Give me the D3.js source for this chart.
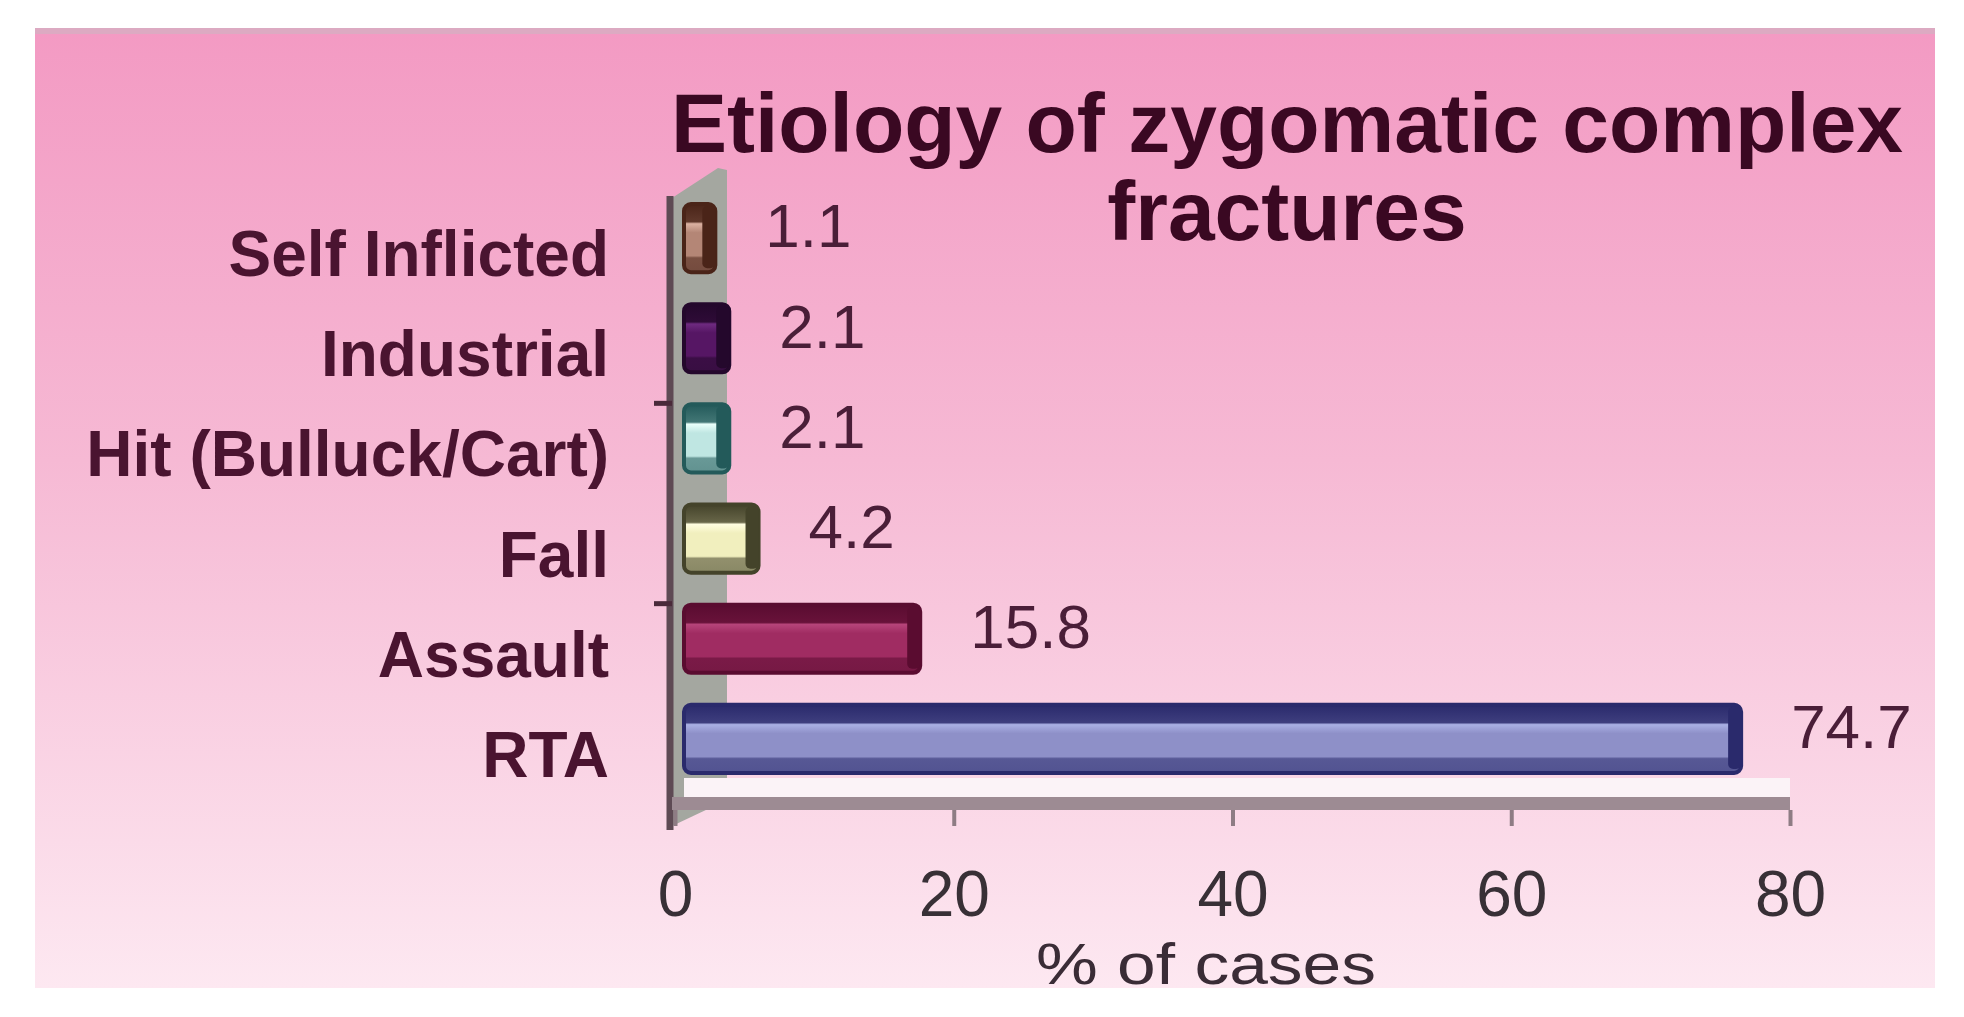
<!DOCTYPE html>
<html>
<head>
<meta charset="utf-8">
<script src="https://cdn.jsdelivr.net/npm/d3@7"></script>
<style>
  html, body { margin: 0; padding: 0; background: #fff; }
  svg { display: block; }
</style>
</head>
<body>
<div id="chart"></div>
<script>
// chart data
const categories = ["Self Inflicted", "Industrial", "Hit (Bulluck/Cart)", "Fall", "Assault", "RTA"];
const values = [1.1, 2.1, 2.1, 4.2, 15.8, 74.7];
const xTicks = [0, 20, 40, 60, 80];
const titleLines = ["Etiology of zygomatic complex", "fractures"];
const xAxisTitle = "% of cases";

// bar colours: edge, body, highlight
const barColors = [
  ["#4a2418", "#b48676", "#dcb2a2"],
  ["#24082c", "#561664", "#6e2a80"],
  ["#235a5a", "#bfe6e2", "#eafffb"],
  ["#44432a", "#f1efbe", "#fffde0"],
  ["#5a0c30", "#a02c62", "#b6447a"],
  ["#2a2a6c", "#8e90c8", "#aab0e4"]
];

const width = 1964, height = 1017;
const font = "'Liberation Sans', Arial, sans-serif";
const depthX = 25, depthY = 15; // 3d offset of the bars

const svg = d3.select("#chart").append("svg")
  .attr("width", width)
  .attr("height", height);

const defs = svg.append("defs");

// background gradient
const bg = defs.append("linearGradient")
  .attr("id", "bg").attr("x1", 0).attr("y1", 0).attr("x2", 0).attr("y2", 1);
bg.append("stop").attr("offset", 0).attr("stop-color", "#f39ac3");
bg.append("stop").attr("offset", 0.45).attr("stop-color", "#f6b9d4");
bg.append("stop").attr("offset", 1).attr("stop-color", "#fde8f1");

svg.append("rect")
  .attr("x", 35).attr("y", 28)
  .attr("width", 1900).attr("height", 960)
  .attr("fill", "url(#bg)");
svg.append("rect")
  .attr("x", 35).attr("y", 28)
  .attr("width", 1900).attr("height", 6)
  .attr("fill", "#dcaac2");

// scales
const x = d3.scaleLinear().domain([0, 80]).range([675, 1790]);
const y = d3.scaleBand().domain(categories).range([203, 804]);
const bw = y.bandwidth();

// title
svg.append("g").selectAll("text")
  .data(titleLines)
  .join("text")
  .attr("x", 1287)
  .attr("y", (d, i) => 152 + i * 88)
  .attr("text-anchor", "middle")
  .attr("font-family", font)
  .attr("font-weight", "bold")
  .attr("font-size", 84)
  .attr("fill", "#3a0822")
  .text(d => d);

// back wall
svg.append("path")
  .attr("d", "M672,198 L718,168 L727,170 L727,800 L672,826 Z")
  .attr("fill", "#a4a7a0");
svg.append("line")
  .attr("x1", 670).attr("x2", 670)
  .attr("y1", 196).attr("y2", 830)
  .attr("stroke", "#5e4a54").attr("stroke-width", 7);

// category axis marks
[categories[2], categories[4]].forEach(c => {
  svg.append("line")
    .attr("x1", 654).attr("x2", 672)
    .attr("y1", y(c)).attr("y2", y(c))
    .attr("stroke", "#4a2a3a").attr("stroke-width", 5);
});

// floor
svg.append("rect")
  .attr("x", 684).attr("y", 778)
  .attr("width", x(80) - 684).attr("height", 19)
  .attr("fill", "#fbf3f7");
svg.append("rect")
  .attr("x", 672).attr("y", 797)
  .attr("width", x(80) - 672).attr("height", 13)
  .attr("fill", "#9d8b93");

// x axis
const xAxis = svg.append("g")
  .attr("transform", "translate(0,810)")
  .call(d3.axisBottom(x).tickValues(xTicks).tickSize(16).tickSizeOuter(0));
xAxis.select(".domain").remove();
xAxis.selectAll(".tick line")
  .attr("stroke", "#8e7c84").attr("stroke-width", 4);
xAxis.selectAll(".tick text")
  .attr("y", 106).attr("dy", 0)
  .attr("font-family", font)
  .attr("font-size", 64)
  .attr("fill", "#383036");

svg.append("text")
  .attr("x", 1206).attr("y", 984)
  .attr("text-anchor", "middle")
  .attr("font-family", font)
  .attr("font-size", 58)
  .attr("textLength", 340)
  .attr("lengthAdjust", "spacingAndGlyphs")
  .attr("fill", "#3a2c36")
  .text(xAxisTitle);

// y axis labels
const yAxis = svg.append("g")
  .attr("transform", "translate(609,0)")
  .call(d3.axisLeft(y).tickSize(0).tickPadding(0));
yAxis.select(".domain").remove();
yAxis.selectAll(".tick text")
  .attr("dy", "0.36em")
  .attr("font-family", font)
  .attr("font-weight", "bold")
  .attr("font-size", 64)
  .attr("fill", "#4a1430");

// bar gradients
categories.forEach((c, i) => {
  const [edge, body, hi] = barColors[i];
  const mix = d3.interpolateRgb(edge, body);
  const g = defs.append("linearGradient")
    .attr("id", "bar" + i).attr("x1", 0).attr("y1", 0).attr("x2", 0).attr("y2", 1);
  [[0, edge], [0.26, mix(0.2)], [0.29, hi],
   [0.42, body], [0.76, body], [0.79, mix(0.45)], [1, mix(0.4)]]
    .forEach(s => g.append("stop").attr("offset", s[0]).attr("stop-color", s[1]));
});

// bars
const barH = bw * 0.68;
const bars = svg.append("g").selectAll("g")
  .data(categories)
  .join("g");

bars.append("rect")
  .attr("x", 684)
  .attr("y", d => y(d) + bw / 2 - depthY - barH / 2)
  .attr("width", (d, i) => x(values[i]) + depthX - 684)
  .attr("height", barH)
  .attr("rx", 7)
  .attr("fill", (d, i) => "url(#bar" + i + ")")
  .attr("stroke", (d, i) => barColors[i][0])
  .attr("stroke-width", 4);

bars.append("rect")
  .attr("x", (d, i) => x(values[i]) + depthX - 13)
  .attr("y", d => y(d) + bw / 2 - depthY - barH / 2 + 2)
  .attr("width", 13)
  .attr("height", barH - 6)
  .attr("rx", 5)
  .attr("fill", (d, i) => barColors[i][0]);

// value labels
bars.append("text")
  .attr("x", (d, i) => x(values[i]) + 75)
  .attr("y", d => y(d) + bw / 2 - 28)
  .attr("dy", "0.36em")
  .attr("font-family", font)
  .attr("font-size", 62)
  .attr("fill", "#4a1e38")
  .text((d, i) => values[i]);
</script>
</body>
</html>
